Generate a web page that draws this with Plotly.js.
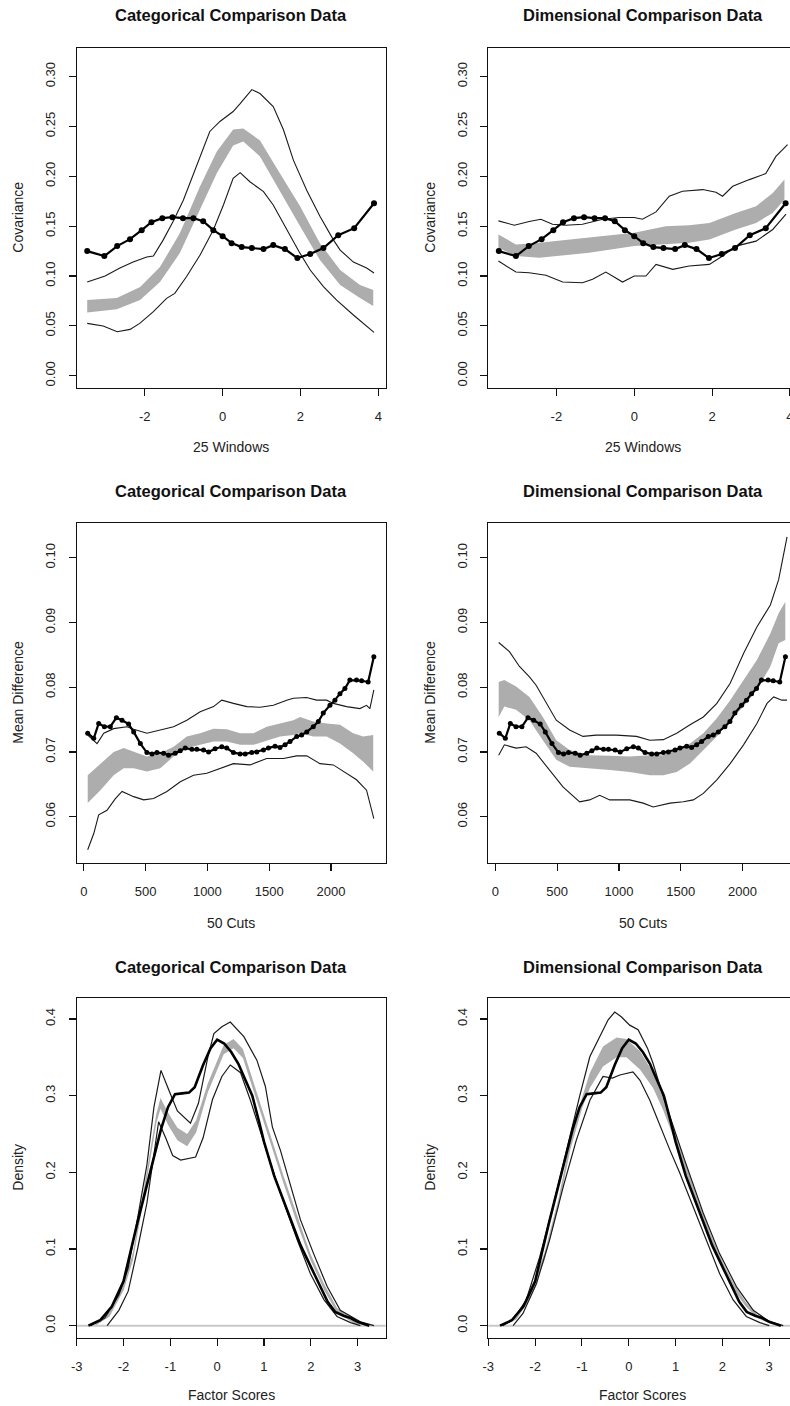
<!DOCTYPE html>
<html>
<head>
<meta charset="utf-8">
<script src="https://cdn.plot.ly/plotly-3.0.1.min.js"></script>
<style>
  html, body { margin: 0; padding: 0; background: #ffffff; overflow: hidden; }
  #chart { width: 800px; height: 1406px; }
</style>
</head>
<body>
<div id="chart"></div>
<script>
// ---------------- DATA ----------------
// Row 1: 25 windows (covariance)
const winObsX = [-3.48,-3.04,-2.71,-2.38,-2.08,-1.83,-1.55,-1.29,-1.02,-0.75,-0.50,-0.24,0.00,0.23,0.49,0.75,1.05,1.30,1.60,1.92,2.25,2.59,2.97,3.38,3.89];
const winObsY = [0.125,0.120,0.130,0.137,0.146,0.154,0.158,0.159,0.158,0.158,0.155,0.146,0.140,0.133,0.129,0.128,0.127,0.131,0.127,0.118,0.122,0.128,0.141,0.148,0.173];

const catWinBandX = [-3.48,-2.72,-2.12,-1.61,-1.10,-0.58,-0.15,0.27,0.53,0.96,1.47,1.99,2.50,3.02,3.53,3.87];
const catWinBandHi = [0.0759,0.078,0.089,0.109,0.143,0.190,0.225,0.247,0.248,0.236,0.203,0.170,0.133,0.106,0.091,0.086];
const catWinBandLo = [0.0635,0.0666,0.076,0.094,0.123,0.166,0.203,0.231,0.235,0.220,0.185,0.150,0.116,0.091,0.078,0.070];
const catWinUpX = [-3.48,-3.02,-2.64,-2.30,-1.95,-1.78,-1.53,-1.27,-1.01,-0.75,-0.58,-0.33,-0.07,0.27,0.45,0.75,0.96,1.30,1.56,1.82,2.16,2.50,2.85,3.02,3.36,3.70,3.89];
const catWinUpY = [0.094,0.100,0.108,0.114,0.119,0.120,0.136,0.155,0.176,0.203,0.220,0.245,0.255,0.265,0.273,0.287,0.283,0.270,0.247,0.216,0.186,0.160,0.136,0.126,0.114,0.108,0.103];
const catWinLoX = [-3.48,-3.07,-2.71,-2.38,-2.13,-1.78,-1.44,-1.23,-0.93,-0.58,-0.24,0.02,0.27,0.45,0.70,1.05,1.30,1.65,1.99,2.25,2.59,2.93,3.36,3.89];
const catWinLoY = [0.0525,0.0498,0.0441,0.0465,0.0525,0.0642,0.0776,0.0826,0.0993,0.1211,0.1462,0.1712,0.198,0.2037,0.1946,0.1846,0.1712,0.1462,0.1227,0.106,0.0893,0.0759,0.0609,0.0435];

const dimWinBandX = [-3.49,-3.04,-2.44,-1.16,0.00,0.81,1.41,1.93,2.61,3.13,3.56,3.86];
const dimWinBandHi = [0.1417,0.1317,0.1333,0.1383,0.1433,0.150,0.151,0.1533,0.1633,0.170,0.1833,0.1967];
const dimWinBandLo = [0.1283,0.120,0.1183,0.1233,0.130,0.1317,0.1333,0.1367,0.1467,0.1533,0.1633,0.1767];
const dimWinUpX = [-3.49,-3.08,-2.70,-2.40,-2.10,-1.76,-1.33,-0.81,-0.39,0.00,0.21,0.56,0.90,1.24,1.76,2.10,2.27,2.53,2.96,3.38,3.64,3.94];
const dimWinUpY = [0.1553,0.151,0.1547,0.157,0.152,0.151,0.152,0.157,0.1587,0.1587,0.157,0.1643,0.180,0.185,0.1867,0.184,0.180,0.190,0.1967,0.2027,0.220,0.2317];
const dimWinLoX = [-3.49,-3.04,-2.70,-2.27,-1.84,-1.33,-1.07,-0.73,-0.30,0.00,0.30,0.56,0.99,1.41,1.93,2.27,2.61,3.13,3.56,3.90];
const dimWinLoY = [0.115,0.104,0.1033,0.1007,0.094,0.0933,0.0967,0.104,0.094,0.100,0.100,0.1117,0.1067,0.110,0.1117,0.120,0.130,0.135,0.1467,0.162];

// Row 2: 50 cuts (mean difference)
const cutObsX = [32,81,121,167,215,264,310,363,404,458,511,552,592,646,686,740,781,821,875,915,969,1010,1063,1117,1157,1211,1265,1306,1359,1400,1454,1494,1548,1588,1629,1669,1723,1763,1804,1857,1898,1938,1992,2032,2073,2113,2153,2207,2248,2301,2347];
const cutObsY = [0.0729,0.0721,0.0744,0.0739,0.0739,0.0753,0.0749,0.0743,0.0731,0.0713,0.0699,0.0697,0.0699,0.0698,0.0695,0.0698,0.0702,0.0706,0.0704,0.0704,0.0703,0.0700,0.0705,0.0708,0.0706,0.0699,0.0697,0.0697,0.0699,0.0700,0.0703,0.0706,0.0709,0.0707,0.0711,0.0716,0.0724,0.0726,0.0731,0.0739,0.0747,0.0760,0.0772,0.0780,0.0790,0.0798,0.0811,0.0811,0.0810,0.0808,0.0847];

const catCutBandX = [32,135,242,323,404,511,619,727,834,942,1050,1157,1265,1373,1480,1588,1696,1750,1857,1965,2073,2180,2261,2342];
const catCutBandHi = [0.0664,0.0682,0.0700,0.0706,0.0700,0.0693,0.0698,0.0708,0.0724,0.0729,0.0736,0.0735,0.0729,0.0729,0.0739,0.0744,0.0749,0.0754,0.0747,0.0744,0.0742,0.0729,0.0724,0.0726];
const catCutBandLo = [0.0621,0.0641,0.0664,0.0675,0.0675,0.0670,0.0675,0.0693,0.0706,0.0711,0.0716,0.0716,0.0711,0.0711,0.0718,0.0724,0.0726,0.0729,0.0724,0.0724,0.0713,0.0698,0.0685,0.0670];
const catCutUpX = [32,108,162,242,350,404,511,619,727,834,942,1050,1117,1211,1319,1427,1534,1642,1696,1803,1884,1965,2019,2126,2234,2288,2315,2347];
const catCutUpY = [0.0726,0.0713,0.0729,0.0736,0.0739,0.0735,0.0729,0.0734,0.0739,0.0749,0.0762,0.0770,0.0780,0.0775,0.0770,0.0769,0.0772,0.0780,0.0783,0.0784,0.0780,0.0780,0.0775,0.0770,0.0767,0.0772,0.0767,0.0796];
const catCutLoX = [32,81,121,188,256,310,404,485,565,673,781,888,996,1104,1211,1346,1480,1615,1723,1804,1911,2019,2126,2207,2288,2347];
const catCutLoY = [0.0549,0.0574,0.0603,0.0610,0.0628,0.0639,0.0631,0.0626,0.0628,0.0639,0.0654,0.0664,0.0667,0.0675,0.0682,0.0680,0.0690,0.0690,0.0694,0.0694,0.0682,0.0680,0.0667,0.0657,0.0641,0.0597];

const dimCutBandX = [27,73,168,276,384,493,601,763,926,1088,1250,1359,1467,1575,1683,1792,1900,2008,2116,2225,2292,2346];
const dimCutBandHi = [0.0808,0.0811,0.0801,0.0785,0.0754,0.0718,0.0703,0.0695,0.0694,0.0693,0.0695,0.0695,0.0703,0.0713,0.0729,0.0752,0.0780,0.0811,0.0842,0.0883,0.0914,0.0932];
const dimCutBandLo = [0.0754,0.0770,0.0765,0.0749,0.0718,0.0688,0.0677,0.0675,0.0672,0.0669,0.0664,0.0664,0.0669,0.0682,0.0703,0.0724,0.0749,0.0770,0.0796,0.0832,0.0868,0.0873];
const dimCutUpX = [27,114,195,276,330,411,493,601,709,817,980,1142,1250,1359,1467,1575,1683,1792,1900,2008,2116,2225,2292,2360];
const dimCutUpY = [0.0869,0.0855,0.0832,0.0816,0.0803,0.0775,0.0749,0.0734,0.0724,0.0726,0.0726,0.0724,0.0718,0.0719,0.0729,0.0742,0.0754,0.0775,0.0806,0.0852,0.0893,0.0927,0.0966,0.1032];
const dimCutLoX = [27,73,168,249,330,438,547,682,763,844,926,1088,1196,1277,1413,1521,1602,1683,1792,1900,2008,2116,2198,2252,2319,2360];
const dimCutLoY = [0.0695,0.0711,0.0706,0.0708,0.0698,0.0672,0.0646,0.0623,0.0626,0.0633,0.0626,0.0626,0.0621,0.0615,0.0621,0.0623,0.0626,0.0636,0.0657,0.0682,0.0711,0.0744,0.0775,0.0785,0.0780,0.0780];

// Row 3: density of factor scores
const densObsX = [-2.75,-2.5,-2.25,-2.0,-1.7,-1.4,-1.2,-1.05,-0.9,-0.75,-0.6,-0.48,-0.3,-0.14,0,0.15,0.3,0.45,0.6,0.75,0.9,1.0,1.22,1.5,1.78,2.07,2.36,2.52,2.7,2.85,3.0,3.25];
const densObsY = [0,0.007,0.025,0.058,0.135,0.207,0.256,0.285,0.302,0.303,0.304,0.311,0.34,0.362,0.373,0.368,0.357,0.342,0.322,0.3,0.265,0.24,0.195,0.149,0.105,0.068,0.031,0.018,0.013,0.01,0.005,0];

const catDensBandX = [-2.6,-2.3,-2.0,-1.8,-1.6,-1.4,-1.3,-1.21,-1.05,-0.85,-0.64,-0.45,-0.2,0.14,0.35,0.55,0.78,1.14,1.42,1.71,1.99,2.28,2.56,2.92,3.2];
const catDensBandHi = [0.002,0.018,0.054,0.095,0.166,0.241,0.276,0.297,0.278,0.258,0.25,0.268,0.316,0.366,0.374,0.361,0.318,0.248,0.195,0.143,0.094,0.055,0.023,0.007,0.001];
const catDensBandLo = [0,0.012,0.046,0.085,0.154,0.229,0.264,0.283,0.262,0.242,0.234,0.252,0.304,0.354,0.362,0.349,0.306,0.236,0.185,0.133,0.086,0.047,0.017,0.003,0];
const catDensUpX = [-2.7,-2.4,-2.1,-1.9,-1.7,-1.5,-1.35,-1.2,-1.05,-0.85,-0.57,-0.4,-0.2,-0.07,0.1,0.28,0.57,0.85,1.03,1.18,1.35,1.57,1.78,2.06,2.35,2.63,2.84,3.06,3.35];
const catDensUpY = [0,0.01,0.04,0.075,0.14,0.21,0.285,0.333,0.31,0.28,0.264,0.29,0.35,0.381,0.39,0.396,0.377,0.346,0.312,0.259,0.229,0.181,0.138,0.094,0.051,0.020,0.013,0.005,0];
const catDensLoX = [-2.35,-2.1,-1.9,-1.7,-1.5,-1.35,-1.25,-1.1,-0.95,-0.78,-0.46,-0.3,-0.1,0.1,0.28,0.5,0.71,1.07,1.35,1.71,1.99,2.28,2.56,2.85,3.06];
const catDensLoY = [0,0.02,0.045,0.1,0.16,0.225,0.266,0.245,0.222,0.216,0.22,0.245,0.295,0.325,0.34,0.33,0.294,0.225,0.173,0.112,0.068,0.034,0.012,0.004,0];

const dimDensBandX = [-2.7,-2.4,-2.1,-1.8,-1.5,-1.25,-1.0,-0.83,-0.55,-0.26,-0.05,0.24,0.52,0.73,1.0,1.25,1.5,1.75,2.0,2.25,2.5,2.75,3.0,3.3];
const dimDensBandHi = [0.001,0.012,0.044,0.095,0.166,0.241,0.297,0.33,0.364,0.376,0.374,0.358,0.33,0.298,0.251,0.205,0.16,0.12,0.084,0.054,0.031,0.014,0.005,0];
const dimDensBandLo = [0,0.008,0.036,0.085,0.154,0.229,0.283,0.31,0.338,0.35,0.35,0.334,0.31,0.282,0.239,0.195,0.15,0.11,0.076,0.046,0.025,0.01,0.003,0];
const dimDensUpX = [-2.69,-2.47,-2.19,-1.90,-1.62,-1.33,-1.05,-0.83,-0.62,-0.44,-0.30,-0.16,0.02,0.2,0.4,0.52,0.73,0.95,1.2,1.59,1.94,2.3,2.66,3.01,3.3];
const dimDensUpY = [0,0.008,0.0335,0.09,0.155,0.229,0.299,0.351,0.377,0.399,0.409,0.403,0.392,0.386,0.362,0.342,0.3,0.259,0.215,0.147,0.094,0.051,0.02,0.005,0];
const dimDensLoX = [-2.47,-2.26,-1.97,-1.69,-1.40,-1.12,-0.83,-0.55,-0.35,-0.19,0.09,0.24,0.45,0.73,0.88,1.09,1.37,1.66,1.94,2.23,2.51,2.8,3.0];
const dimDensLoY = [0,0.016,0.055,0.112,0.181,0.242,0.294,0.325,0.323,0.327,0.331,0.32,0.294,0.251,0.229,0.199,0.155,0.112,0.068,0.0335,0.012,0.004,0];

// Tick values and labels
const winTicks = [-2, 0, 2, 4];
const winTickText = ['-2', '0', '2', '4'];
const covTicks = [0, 0.05, 0.10, 0.15, 0.20, 0.25, 0.30];
const covTickText = ['0.00', '0.05', '0.10', '0.15', '0.20', '0.25', '0.30'];
const cutTicks = [0, 500, 1000, 1500, 2000];
const cutTickText = ['0', '500', '1000', '1500', '2000'];
const mdTicks = [0.06, 0.07, 0.08, 0.09, 0.10];
const mdTickText = ['0.06', '0.07', '0.08', '0.09', '0.10'];
const fsTicks = [-3, -2, -1, 0, 1, 2, 3];
const fsTickText = ['-3', '-2', '-1', '0', '1', '2', '3'];
const densTicks = [0, 0.1, 0.2, 0.3, 0.4];
const densTickText = ['0.0', '0.1', '0.2', '0.3', '0.4'];

const titles = ['Categorical Comparison Data', 'Dimensional Comparison Data'];
const xTitles = ['25 Windows', '50 Cuts', 'Factor Scores'];
const yTitles = ['Covariance', 'Mean Difference', 'Density'];

// ---------------- LAYOUT HELPERS ----------------
const W = 800, H = 1406;
const px2x = p => p / W;
const px2y = p => 1 - p / H;
const FONT = 'Liberation Sans, Arial, Helvetica, sans-serif';
const colDom = [[76.7, 385.7], [488.3, 797.3]];
const rowDom = [[47.7, 387.7], [522.7, 862.7], [997.7, 1337.7]];

const BAND = '#adadad';
const THIN = '#1a1a1a';

const traces = [];
function bandPoly(xs, hi, lo, ax) {
  traces.push({x: xs, y: hi, xaxis: ax[0], yaxis: ax[1], mode: 'lines', line: {width: 0, color: BAND}, hoverinfo: 'skip', showlegend: false});
  traces.push({x: xs, y: lo, xaxis: ax[0], yaxis: ax[1], mode: 'lines', line: {width: 0, color: BAND}, fill: 'tonexty', fillcolor: BAND, hoverinfo: 'skip', showlegend: false});
}
function line(xs, ys, ax, color, w) {
  traces.push({x: xs, y: ys, xaxis: ax[0], yaxis: ax[1], mode: 'lines', line: {width: w, color: color}, showlegend: false});
}
function obsDots(xs, ys, ax, ms) {
  traces.push({x: xs, y: ys, xaxis: ax[0], yaxis: ax[1], mode: 'lines+markers', line: {width: 2.2, color: '#000'}, marker: {size: ms, color: '#000'}, showlegend: false});
}

const A = [['x', 'y'], ['x2', 'y2'], ['x3', 'y3'], ['x4', 'y4'], ['x5', 'y5'], ['x6', 'y6']];

// Panel 1
bandPoly(catWinBandX, catWinBandHi, catWinBandLo, A[0]);
line(catWinUpX, catWinUpY, A[0], THIN, 1.1);
line(catWinLoX, catWinLoY, A[0], THIN, 1.1);
obsDots(winObsX, winObsY, A[0], 6);
// Panel 2
bandPoly(dimWinBandX, dimWinBandHi, dimWinBandLo, A[1]);
line(dimWinUpX, dimWinUpY, A[1], THIN, 1.1);
line(dimWinLoX, dimWinLoY, A[1], THIN, 1.1);
obsDots(winObsX, winObsY, A[1], 6);
// Panel 3
bandPoly(catCutBandX, catCutBandHi, catCutBandLo, A[2]);
line(catCutUpX, catCutUpY, A[2], THIN, 1.1);
line(catCutLoX, catCutLoY, A[2], THIN, 1.1);
obsDots(cutObsX, cutObsY, A[2], 5);
// Panel 4
bandPoly(dimCutBandX, dimCutBandHi, dimCutBandLo, A[3]);
line(dimCutUpX, dimCutUpY, A[3], THIN, 1.1);
line(dimCutLoX, dimCutLoY, A[3], THIN, 1.1);
obsDots(cutObsX, cutObsY, A[3], 5);
// Panel 5
bandPoly(catDensBandX, catDensBandHi, catDensBandLo, A[4]);
line(catDensUpX, catDensUpY, A[4], THIN, 1.2);
line(catDensLoX, catDensLoY, A[4], THIN, 1.2);
line(densObsX, densObsY, A[4], '#000', 2.6);
// Panel 6
bandPoly(dimDensBandX, dimDensBandHi, dimDensBandLo, A[5]);
line(dimDensUpX, dimDensUpY, A[5], THIN, 1.2);
line(dimDensLoX, dimDensLoY, A[5], THIN, 1.2);
line(densObsX, densObsY, A[5], '#000', 2.6);

function axisCommon() {
  return {
    autorange: false, tickmode: 'array',
    showline: true, mirror: true, linecolor: '#111', linewidth: 1.2,
    ticks: 'outside', ticklen: 7, tickwidth: 1.1, tickcolor: '#111',
    showgrid: false, zeroline: false, fixedrange: true,
    tickfont: {family: FONT, size: 13, color: '#222'}
  };
}
function xAx(col, range, ticks, text, anchor) {
  return Object.assign(axisCommon(), {
    domain: [px2x(colDom[col][0]), px2x(colDom[col][1])], anchor: anchor,
    range: range, tickvals: ticks, ticktext: text, ticklabelstandoff: 9
  });
}
function yAx(row, range, ticks, text, anchor) {
  return Object.assign(axisCommon(), {
    domain: [px2y(rowDom[row][1]), px2y(rowDom[row][0])], anchor: anchor,
    range: range, tickvals: ticks, ticktext: text, tickangle: -90, ticklabelstandoff: 8
  });
}

const winRange = [-3.75, 4.19], covRange = [-0.012, 0.329];
const cutRange = [-57, 2443], mdRange = [0.0529, 0.1054];
const fsRange = [-3.0, 3.6], densRange = [-0.0157, 0.4278];

const annotations = [];
const titleY = [15, 490.7, 966.7];
const xTitleY = [447, 922.7, 1395];
const yTitleX = [18, 430];
for (let r = 0; r < 3; r++) {
  for (let c = 0; c < 2; c++) {
    const cx = (colDom[c][0] + colDom[c][1]) / 2;
    annotations.push({text: titles[c], xref: 'paper', yref: 'paper', x: px2x(cx), y: px2y(titleY[r]),
      xanchor: 'center', yanchor: 'middle', showarrow: false,
      font: {family: FONT, size: 16.5, color: '#111', weight: 'bold'}});
    annotations.push({text: xTitles[r], xref: 'paper', yref: 'paper', x: px2x(cx), y: px2y(xTitleY[r]),
      xanchor: 'center', yanchor: 'middle', showarrow: false,
      font: {family: FONT, size: 14, color: '#222'}});
    annotations.push({text: yTitles[r], xref: 'paper', yref: 'paper', x: px2x(yTitleX[c]),
      y: px2y((rowDom[r][0] + rowDom[r][1]) / 2), textangle: -90,
      xanchor: 'center', yanchor: 'middle', showarrow: false,
      font: {family: FONT, size: 14, color: '#222'}});
  }
}

const shapes = [
  {type: 'line', xref: 'x5 domain', yref: 'y5', x0: 0, x1: 1, y0: 0, y1: 0, line: {color: '#c9c9c9', width: 2}, layer: 'below'},
  {type: 'line', xref: 'x6 domain', yref: 'y6', x0: 0, x1: 1, y0: 0, y1: 0, line: {color: '#c9c9c9', width: 2}, layer: 'below'}
];

const layout = {
  width: W, height: H,
  margin: {l: 0, r: 0, t: 0, b: 0},
  paper_bgcolor: '#ffffff', plot_bgcolor: '#ffffff',
  showlegend: false,
  font: {family: FONT, color: '#222'},
  xaxis: xAx(0, winRange, winTicks, winTickText, 'y'),
  yaxis: yAx(0, covRange, covTicks, covTickText, 'x'),
  xaxis2: xAx(1, winRange, winTicks, winTickText, 'y2'),
  yaxis2: yAx(0, covRange, covTicks, covTickText, 'x2'),
  xaxis3: xAx(0, cutRange, cutTicks, cutTickText, 'y3'),
  yaxis3: yAx(1, mdRange, mdTicks, mdTickText, 'x3'),
  xaxis4: xAx(1, cutRange, cutTicks, cutTickText, 'y4'),
  yaxis4: yAx(1, mdRange, mdTicks, mdTickText, 'x4'),
  xaxis5: xAx(0, fsRange, fsTicks, fsTickText, 'y5'),
  yaxis5: yAx(2, densRange, densTicks, densTickText, 'x5'),
  xaxis6: xAx(1, fsRange, fsTicks, fsTickText, 'y6'),
  yaxis6: yAx(2, densRange, densTicks, densTickText, 'x6'),
  annotations: annotations,
  shapes: shapes
};

Plotly.newPlot('chart', traces, layout, {staticPlot: true, displayModeBar: false});
</script>
</body>
</html>
